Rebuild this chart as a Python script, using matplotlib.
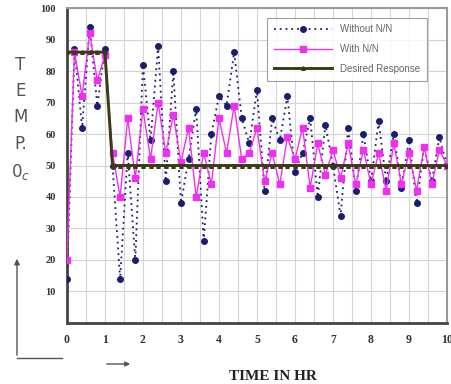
import matplotlib
matplotlib.use("Agg")
from matplotlib import pyplot as plt

# time in hr (0.2 hr steps)
time_hr = [0.0, 0.2, 0.4, 0.6, 0.8, 1.0, 1.2, 1.4, 1.6, 1.8,
           2.0, 2.2, 2.4, 2.6, 2.8, 3.0, 3.2, 3.4, 3.6, 3.8,
           4.0, 4.2, 4.4, 4.6, 4.8, 5.0, 5.2, 5.4, 5.6, 5.8,
           6.0, 6.2, 6.4, 6.6, 6.8, 7.0, 7.2, 7.4, 7.6, 7.8,
           8.0, 8.2, 8.4, 8.6, 8.8, 9.0, 9.2, 9.4, 9.6, 9.8, 10.0]

without_nn = [14, 87, 62, 94, 69, 87, 50, 14, 54, 20,
              82, 58, 88, 45, 80, 38, 52, 68, 26, 60,
              72, 69, 86, 65, 57, 74, 42, 65, 58, 72,
              48, 54, 65, 40, 63, 50, 34, 62, 42, 60,
              45, 64, 45, 60, 43, 58, 38, 56, 45, 59, 50]

with_nn = [20, 86, 72, 92, 77, 85, 54, 40, 65, 46,
           68, 52, 70, 54, 66, 51, 62, 40, 54, 44,
           65, 54, 69, 52, 54, 62, 45, 54, 44, 59,
           52, 62, 43, 57, 47, 55, 46, 57, 44, 55,
           44, 54, 42, 57, 44, 54, 42, 56, 44, 55, 50]

desired = [86, 86, 86, 86, 86, 86, 50, 50, 50, 50,
           50, 50, 50, 50, 50, 50, 50, 50, 50, 50,
           50, 50, 50, 50, 50, 50, 50, 50, 50, 50,
           50, 50, 50, 50, 50, 50, 50, 50, 50, 50,
           50, 50, 50, 50, 50, 50, 50, 50, 50, 50, 50]

xticks = [0, 1, 2, 3, 4, 5, 6, 7, 8, 9, 10]
yticks = [10, 20, 30, 40, 50, 60, 70, 80, 90, 100]

fig = plt.figure(figsize=(4.52, 3.84), dpi=100)
ax = fig.add_axes([0.148, 0.159, 0.841, 0.820])

ax.plot(time_hr, without_nn, color='#1c1c70', linestyle=(0, (1, 2.2)), linewidth=1.3,
        marker='o', markersize=4, label='Without N/N', zorder=3)
ax.plot(time_hr, with_nn, color='#f030f0', linestyle='-', linewidth=1.0,
        marker='s', markersize=4, label='With N/N', zorder=4)
ax.plot(time_hr, desired, color='#3a3a14', linestyle='-', linewidth=2.1,
        marker='^', markersize=2.6, label='Desired Response', zorder=5)

ax.set_xlim(0, 10)
ax.set_ylim(0, 100)
ax.grid(True, color='#d4d4d4', linewidth=0.8)
ax.set_axisbelow(True)

ax.set_yticks(yticks)
ax.set_yticklabels([str(v) for v in yticks])
ax.set_xticks([x * 0.5 for x in range(21)])
ax.set_xticklabels([str(v // 2) if v % 2 == 0 else '' for v in range(21)])

for lab in ax.get_xticklabels() + ax.get_yticklabels():
    lab.set_fontfamily('Liberation Serif')
    lab.set_fontweight('bold')
    lab.set_color('#333333')
ax.tick_params(axis='x', length=0, pad=8, labelsize=8.5)
ax.tick_params(axis='y', length=0, pad=8, labelsize=7.5)

for s in ['left', 'bottom']:
    ax.spines[s].set_color('#444444')
    ax.spines[s].set_linewidth(2)
for s in ['top', 'right']:
    ax.spines[s].set_color('#999999')
    ax.spines[s].set_linewidth(1.5)

leg = ax.legend(loc='upper right', bbox_to_anchor=(0.96, 0.985), handlelength=6.0,
                frameon=True, fancybox=False, borderpad=0.7,
                labelspacing=1.0, prop={'family': 'Liberation Sans', 'size': 7})
leg.get_frame().set_edgecolor('#888888')
leg.get_frame().set_linewidth(0.8)
for txt in leg.get_texts():
    txt.set_color('#666666')

# vertical axis title, letters stacked
fig.text(0.045, 0.855, 'T\nE\nM\nP.\n$0_c$', ha='center', va='top', fontsize=12,
         color='#555555', linespacing=1.6, family='DejaVu Sans')

# arrows
fig.add_artist(plt.Line2D([17 / 452, 62 / 452], [1 - 358 / 384, 1 - 358 / 384],
                          color='#555555', linewidth=1))
fig.add_artist(matplotlib.patches.FancyArrowPatch((17 / 452, 1 - 358 / 384), (17 / 452, 1 - 256 / 384),
                                                  transform=fig.transFigure, arrowstyle='-|>',
                                                  mutation_scale=8, color='#555555', linewidth=1))
fig.add_artist(matplotlib.patches.FancyArrowPatch((104 / 452, 1 - 364 / 384), (133 / 452, 1 - 364 / 384),
                                                  transform=fig.transFigure, arrowstyle='-|>',
                                                  mutation_scale=7, color='#555555', linewidth=1))

fig.text(273 / 452, 1 - 376 / 384, 'TIME IN HR', ha='center', va='center', fontsize=11,
         fontweight='bold', family='Liberation Serif', color='#222222')

fig.savefig('out.png', dpi=100)
